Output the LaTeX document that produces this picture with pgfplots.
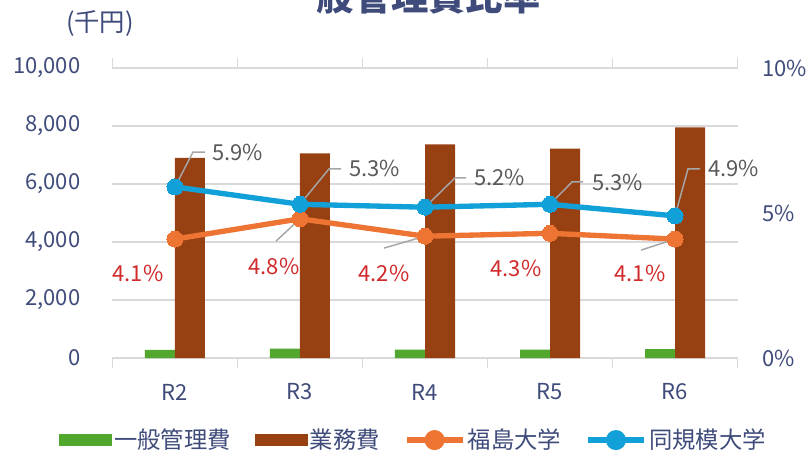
\documentclass[border=0pt]{standalone}
\usepackage{fontspec}
\setmainfont{Noto Sans CJK JP}
\usepackage{pgfplots}
\pgfplotsset{compat=1.18}
\usetikzlibrary{calc}
\definecolor{gbar}{HTML}{52A82F}
\definecolor{bbar}{HTML}{974112}
\definecolor{oline}{HTML}{ED7432}
\definecolor{bline}{HTML}{12A0D8}
\definecolor{navy}{HTML}{3F4B7A}
\definecolor{gridg}{HTML}{D9D9D9}
\definecolor{lblgray}{HTML}{595959}
\definecolor{lblred}{HTML}{D02A2A}
\definecolor{leader}{HTML}{A6A6A6}
\begin{document}
\begin{tikzpicture}
\begin{axis}[name=ax, scale only axis, width=468.75pt, height=217.5pt,
  xmin=-0.5, xmax=4.5, ymin=0, ymax=10000,
  ytick={0,2000,...,10000}, scaled y ticks=false,
  yticklabel={\pgfmathprintnumber[1000 sep={,}, assume math mode=true]{\tick}},
  xtick={0,...,4}, xticklabels={R2,R3,R4,R5,R6},
  minor xtick={-0.5,0.5,...,4.5},
  major tick length=0pt, minor tick length=7.5pt, tick align=outside,
  every minor tick/.style={draw=gridg, line width=0.9pt},
  ymajorgrids, grid style={draw=gridg, line width=1.1pt},
  axis line style={draw=none},
  tick label style={font=\fontsize{16.5}{18}\selectfont, text=navy, inner sep=0pt},
  yticklabel style={anchor=east, xshift=-24pt},
  xticklabel style={anchor=center, yshift=-25.5pt},
  clip=false]
\addplot[ybar, fill=gbar, draw=none, bar width=22.5pt, bar shift=-11.25pt] coordinates {(0,280) (1,320) (2,290) (3,290) (4,310)};
\addplot[ybar, fill=bbar, draw=none, bar width=22.5pt, bar shift=11.25pt] coordinates {(0,6900) (1,7060) (2,7370) (3,7220) (4,7950)};
\end{axis}
\begin{axis}[at={(ax.south west)}, anchor=south west, scale only axis, width=468.75pt, height=217.5pt,
  xmin=-0.5, xmax=4.5, ymin=0, ymax=10,
  axis y line*=right, axis x line=none,
  ytick={0,5,10}, yticklabels={0\%,5\%,10\%},
  major tick length=0pt,
  axis line style={draw=none},
  tick label style={font=\fontsize{16.5}{18}\selectfont, text=navy, inner sep=0pt},
  yticklabel style={anchor=west, xshift=18.4pt},
  clip=false,
  legend columns=4,
  legend style={at={(0.482,-0.283)}, anchor=center, draw=none, fill=none,
    font=\fontsize{17.5}{20}\selectfont, text=navy, inner sep=0pt,
    /tikz/every even column/.append style={column sep=16pt}},
  legend cell align=left]
\addlegendimage{legend image code/.code={\fill[gbar] (0pt,-4.1pt) rectangle (39pt,4.1pt);}}
\addlegendentry{一般管理費}
\addlegendimage{legend image code/.code={\fill[bbar] (0pt,-4.1pt) rectangle (39pt,4.1pt);}}
\addlegendentry{業務費}
\addplot[oline, line width=4pt, mark=*, mark size=6pt, mark options={fill=oline, draw=oline, line width=0pt},
  legend image code/.code={\draw[oline, line width=4pt] (0pt,0pt) -- (42pt,0pt); \fill[oline] (21pt,0pt) circle (5.5pt);}]
  coordinates {(0,4.1) (1,4.8) (2,4.2) (3,4.3) (4,4.1)};
\addlegendentry{福島大学}
\addplot[bline, line width=4pt, mark=*, mark size=6pt, mark options={fill=bline, draw=bline, line width=0pt},
  legend image code/.code={\draw[bline, line width=4pt] (0pt,0pt) -- (42pt,0pt); \fill[bline] (21pt,0pt) circle (5.5pt);}]
  coordinates {(0,5.9) (1,5.3) (2,5.2) (3,5.3) (4,4.9)};
\addlegendentry{同規模大学}
% leader lines and labels
\begin{scope}[every node/.style={font=\fontsize{16.5}{18}\selectfont, inner sep=0pt}]
\draw[leader, line width=1.1pt] (axis cs:0,5.9) -- (axis cs:0.144,7.10) -- (axis cs:0.24,7.10);
\node[anchor=west, text=lblgray] at (axis cs:0.296,7.10) {5.9\%};
\draw[leader, line width=1.1pt] (axis cs:1,5.3) -- (axis cs:1.232,6.52) -- (axis cs:1.328,6.52);
\node[anchor=west, text=lblgray] at (axis cs:1.392,6.52) {5.3\%};
\draw[leader, line width=1.1pt] (axis cs:2,5.2) -- (axis cs:2.24,6.21) -- (axis cs:2.328,6.21);
\node[anchor=west, text=lblgray] at (axis cs:2.392,6.21) {5.2\%};
\draw[leader, line width=1.1pt] (axis cs:3,5.3) -- (axis cs:3.176,6.07) -- (axis cs:3.264,6.07);
\node[anchor=west, text=lblgray] at (axis cs:3.336,6.07) {5.3\%};
\draw[leader, line width=1.1pt] (axis cs:4,4.9) -- (axis cs:4.104,6.52) -- (axis cs:4.2,6.52);
\node[anchor=west, text=lblgray] at (axis cs:4.264,6.52) {4.9\%};
\node[text=lblred] at (axis cs:-0.296,2.90) {4.1\%};
\draw[leader, line width=1.1pt] (axis cs:1,4.8) -- (axis cs:0.808,4.03);
\node[text=lblred] at (axis cs:0.792,3.17) {4.8\%};
\draw[leader, line width=1.1pt] (axis cs:2,4.2) -- (axis cs:1.672,3.79);
\node[text=lblred] at (axis cs:1.672,2.90) {4.2\%};
\node[text=lblred] at (axis cs:2.728,3.10) {4.3\%};
\draw[leader, line width=1.1pt] (axis cs:4,4.1) -- (axis cs:3.728,3.72);
\node[text=lblred] at (axis cs:3.72,2.90) {4.1\%};
\end{scope}
\end{axis}
\node[font=\fontsize{19}{22}\selectfont, text=navy] at ($(ax.south west)+(-9.4pt,251pt)$) {(千円)};
\node[font=\fontsize{28}{30}\selectfont\bfseries, text=navy] at ($(ax.south west)+(223.1pt,271.5pt)$) {一般管理費比率};
\pgfresetboundingbox
\path[use as bounding box] ($(ax.south west)+(-84.375pt,-72pt)$) rectangle ($(ax.south west)+(521.625pt,268.5pt)$);
\end{tikzpicture}
\end{document}
